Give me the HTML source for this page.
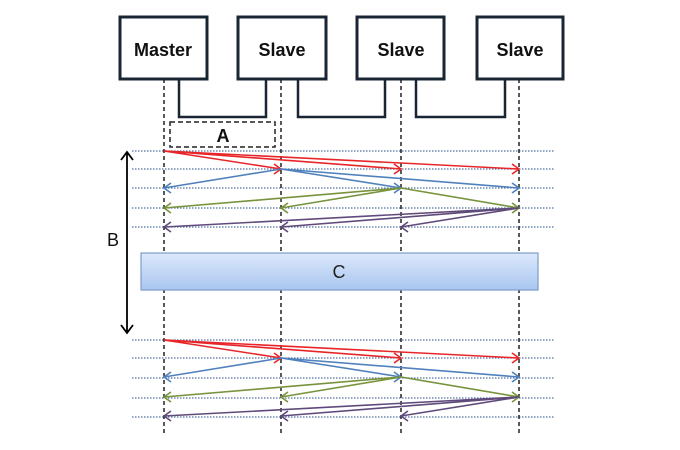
<!DOCTYPE html>
<html><head><style>body{margin:0;background:#fff}svg{display:block}</style></head><body>
<svg width="680" height="450" xmlns="http://www.w3.org/2000/svg" font-family="Liberation Sans, sans-serif">
<defs>
<linearGradient id="g" x1="0" y1="0" x2="0" y2="1"><stop offset="0" stop-color="#dce8fb"/><stop offset="1" stop-color="#a9c6f0"/></linearGradient>
</defs>
<g fill="#fff" stroke="#1a2533" stroke-width="3">
<rect x="120" y="17" width="87" height="62"/>
<rect x="238" y="17" width="88" height="62"/>
<rect x="357" y="17" width="87" height="62"/>
<rect x="477" y="17" width="86" height="62"/>
</g>
<g font-size="18" font-weight="bold" text-anchor="middle" fill="#111">
<text x="163" y="56">Master</text><text x="282" y="56">Slave</text><text x="401" y="56">Slave</text><text x="520" y="56">Slave</text>
</g>
<g fill="none" stroke="#1a2533" stroke-width="2.5">
<path d="M179 79V117H266V79M298 79V117H385V79M416 79V117H505V79"/>
</g>
<rect x="170" y="122" width="105" height="25" fill="none" stroke="#222" stroke-width="1.5" stroke-dasharray="5,3"/>
<text x="223" y="142" font-size="18" font-weight="bold" text-anchor="middle" fill="#111">A</text>
<g stroke="#4f6fa0" stroke-width="1.3" stroke-dasharray="1.5,1.5">
<path d="M132 151H555M132 169H555M132 188H555M132 208H555M132 227H555M132 340H555M132 358H555M132 378H555M132 398H555M132 417H555"/>
</g>
<g stroke="#222" stroke-width="1.5" stroke-dasharray="4,3">
<path d="M164 79V435M281 79V435M401 79V435M519 79V435"/>
</g>
<path d="M127 152V333M121 160L127 152L133 160M121 325L127 333L133 325" fill="none" stroke="#000" stroke-width="1.8"/>
<text x="113" y="246" font-size="18" text-anchor="middle" fill="#111">B</text>
<rect x="141" y="253" width="397" height="37" fill="url(#g)" stroke="#7d9cc8" stroke-width="1.2"/>
<text x="339" y="278" font-size="18" text-anchor="middle" fill="#222">C</text>
<g id="grp" fill="none" stroke-width="1.6">
<g stroke="#e8262a"><path d="M164 151L281 169M164 151L401 169M164 151L519 169"/>
<path d="M274 164L281 169L274 174M394 164L401 169L394 174M512 164L519 169L512 174"/></g>
<g stroke="#4f81bd"><path d="M281 169L164 188M281 169L401 188M281 169L519 188"/>
<path d="M171 183L164 188L171 193M394 183L401 188L394 193M512 183L519 188L512 193"/></g>
<g stroke="#77933c"><path d="M401 188L164 208M401 188L281 208M401 188L519 208"/>
<path d="M171 203L164 208L171 213M288 203L281 208L288 213M512 203L519 208L512 213"/></g>
<g stroke="#604a7b"><path d="M519 208L164 227M519 208L281 227M519 208L401 227"/>
<path d="M171 222L164 227L171 232M288 222L281 227L288 232M408 222L401 227L408 232"/></g>
</g>
<use href="#grp" transform="translate(0,189)"/>
</svg>
</body></html>
